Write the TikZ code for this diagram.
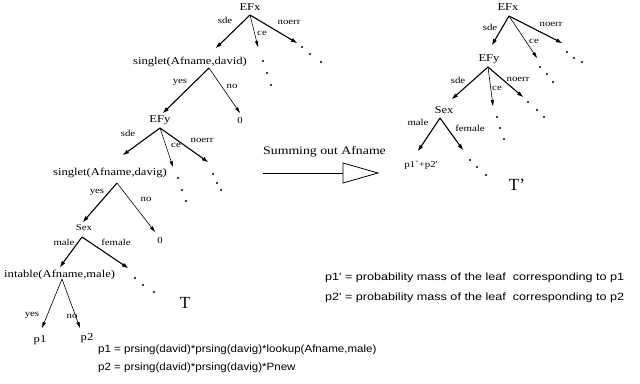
\documentclass[tikz,border=0pt]{standalone}
\usepackage{fontspec}
\setmainfont{Liberation Serif}
\newfontfamily\wideserif[FakeStretch=1.2]{Liberation Serif}
\newfontfamily\widesans[FakeStretch=1.1]{Liberation Sans}
\newfontfamily\widersans[FakeStretch=1.2]{Liberation Sans}
\usetikzlibrary{arrows.meta}
\begin{document}
\begin{tikzpicture}[x=1pt,y=-1pt,
  lbl/.style={font=\wideserif\fontsize{10.5}{12}\selectfont, inner sep=0pt},
  elbl/.style={font=\wideserif\fontsize{9}{10}\selectfont, inner sep=0pt},
  big/.style={font=\fontsize{17}{18}\selectfont, inner sep=0pt},
  thk/.style={line width=1.1pt, -{Triangle[length=6pt,width=3.6pt]}},
  thn/.style={line width=0.6pt, -{Triangle[length=6pt,width=3.2pt]}},
  dot/.style={circle, fill, inner sep=0pt, minimum size=2.4pt},
  eq/.style={font=\widesans\fontsize{10.5}{12}\selectfont, anchor=west, inner sep=0pt},
  eqr/.style={font=\widersans\fontsize{10.5}{12}\selectfont, anchor=west, inner sep=0pt}]
\useasboundingbox[fill=white] (0,0) rectangle (640,383);

% ---------------- left tree ----------------
\node[lbl] (efx) at (250,7) {EFx};
\coordinate (efxa) at (250,15);
\coordinate (efx1) at (216,48);
\coordinate (efx2) at (258,47);
\coordinate (efx3) at (297,43);
\draw[thk] (efxa) -- (efx1);
\draw[thn] (efxa) -- (efx2);
\draw[thk] (efxa) -- (efx3);
\node[elbl] (l1) at (225,20) {sde};
\node[elbl] (l2) at (262,33) {ce};
\node[elbl] (l3) at (289,22) {noerr};
\node[dot] (d1) at (263,61) {}; \node[dot] (d2) at (267,73) {}; \node[dot] (d3) at (271,85) {};
\node[dot] (d4) at (302,47) {}; \node[dot] (d5) at (310,54) {}; \node[dot] (d6) at (321,62) {};

\node[lbl] (sd) at (190,62) {singlet(Afname,david)};
\coordinate (sda) at (209,68);
\coordinate (sd1) at (163,113);
\coordinate (sd2) at (240,113);
\draw[thk] (sda) -- (sd1);
\draw[thn] (sda) -- (sd2);
\node[elbl] (l4) at (180,82) {yes};
\node[elbl] (l5) at (232,86) {no};

\node[lbl] (efy) at (160,120) {EFy};
\node[elbl] (z1) at (240,121) {0};
\coordinate (efya) at (160,128);
\coordinate (efy1) at (123,155);
\coordinate (efy2) at (173,167);
\coordinate (efy3) at (208,162);
\draw[thk] (efya) -- (efy1);
\draw[thn] (efya) -- (efy2);
\draw[thk] (efya) -- (efy3);
\node[elbl] (l6) at (128,133) {sde};
\node[elbl] (l7) at (176,145) {ce};
\node[elbl] (l8) at (202,140) {noerr};
\node[dot] (d7) at (178,178) {}; \node[dot] (d8) at (182,190) {}; \node[dot] (d9) at (186,201) {};
\node[dot] (d10) at (213,174) {}; \node[dot] (d11) at (217,183) {}; \node[dot] (d12) at (221,190) {};

\node[lbl] (sv) at (110,173) {singlet(Afname,davig)};
\coordinate (sva) at (117,183);
\coordinate (sv1) at (83,222);
\coordinate (sv2) at (155,232);
\draw[thk] (sva) -- (sv1);
\draw[thn] (sva) -- (sv2);
\node[elbl] (l9) at (97,192) {yes};
\node[elbl] (l10) at (146,199) {no};

\node[elbl] (sex) at (84,228) {Sex};
\node[elbl] (z2) at (160,241) {0};
\coordinate (sexa) at (82,237);
\coordinate (sex1) at (60,267);
\coordinate (sex2) at (128,268);
\draw[thk] (sexa) -- (sex1);
\draw[thk] (sexa) -- (sex2);
\node[elbl] (l11) at (64,242) {male};
\node[elbl] (l12) at (116,242) {female};
\node[dot] (d13) at (135,278) {}; \node[dot] (d14) at (143,285) {}; \node[dot] (d15) at (154,292) {};

\node[lbl, anchor=west] (it) at (4,275) {intable(Afname,male)};
\coordinate (ita) at (62,279);
\coordinate (it1) at (42,328);
\coordinate (it2) at (80,328);
\draw[thn] (ita) -- (it1);
\draw[thn] (ita) -- (it2);
\node[elbl] (l13) at (32,315) {yes};
\node[elbl] (l14) at (72,316) {no};
\node[lbl] (p1) at (40,340) {p1};
\node[lbl] (p2) at (87,338) {p2};
\node[big] (T) at (185,303) {T};

\node[eq] (e1) at (98,350) {p1 = prsing(david)*prsing(davig)*lookup(Afname,male)};
\node[eq] (e2) at (98,368) {p2 = prsing(david)*prsing(davig)*Pnew};

% ---------------- transformation arrow ----------------
\node[font=\wideserif\fontsize{11.5}{13}\selectfont, anchor=west, inner sep=0pt] (sum) at (263,152) {Summing out Afname};
\coordinate (ar0) at (263,173);
\coordinate (ar1) at (343,173);
\coordinate (art) at (343,163);
\coordinate (arp) at (378,173);
\coordinate (arb) at (343,183);
\draw[line width=1pt] (ar0) -- (ar1);
\draw[line width=0.8pt, line join=miter] (art) -- (arp) -- (arb) -- cycle;

% ---------------- right tree ----------------
\node[lbl] (rfx) at (508,7) {EFx};
\coordinate (rfxa) at (509,16);
\coordinate (rfx1) at (492,45);
\coordinate (rfx2) at (537,58);
\coordinate (rfx3) at (562,43);
\draw[thk] (rfxa) -- (rfx1);
\draw[thn] (rfxa) -- (rfx2);
\draw[thk] (rfxa) -- (rfx3);
\node[elbl] (r1) at (490,27) {sde};
\node[elbl] (r2) at (534,41) {ce};
\node[elbl] (r3) at (551,24) {noerr};
\node[dot] (rd1) at (540,67) {}; \node[dot] (rd2) at (547,74) {}; \node[dot] (rd3) at (553,82) {};
\node[dot] (rd4) at (567,52) {}; \node[dot] (rd5) at (574,58) {}; \node[dot] (rd6) at (582,62) {};

\node[lbl] (rfy) at (489,59) {EFy};
\coordinate (rfya) at (488,67);
\coordinate (rfy1) at (452,99);
\coordinate (rfy2) at (493,106);
\coordinate (rfy3) at (523,97);
\draw[thk] (rfya) -- (rfy1);
\draw[thn] (rfya) -- (rfy2);
\draw[thk] (rfya) -- (rfy3);
\node[elbl] (r4) at (458,80) {sde};
\node[elbl] (r5) at (497,88) {ce};
\node[elbl] (r6) at (518,79) {noerr};
\node[dot] (rd7) at (497,117) {}; \node[dot] (rd8) at (500,128) {}; \node[dot] (rd9) at (504,139) {};
\node[dot] (rd10) at (528,102) {}; \node[dot] (rd11) at (537,110) {}; \node[dot] (rd12) at (544,117) {};

\node[lbl] (rsex) at (444,110) {Sex};
\coordinate (rsexa) at (440,118);
\coordinate (rsex1) at (418,151);
\coordinate (rsex2) at (463,150);
\draw[thk] (rsexa) -- (rsex1);
\draw[thk] (rsexa) -- (rsex2);
\node[elbl] (r7) at (418,122) {male};
\node[elbl] (r8) at (470,128) {female};
\node[elbl] (rp) at (421,165) {p1`+p2'};
\node[dot] (rd13) at (470,160) {}; \node[dot] (rd14) at (477,167) {}; \node[dot] (rd15) at (486,175) {};
\node[big] (Tp) at (517,185) {T'};

\node[eqr] (e3) at (325,278) {p1' = probability mass of the leaf \ corresponding to p1};
\node[eqr] (e4) at (325,298) {p2' = probability mass of the leaf \ corresponding to p2};
\end{tikzpicture}
\end{document}
